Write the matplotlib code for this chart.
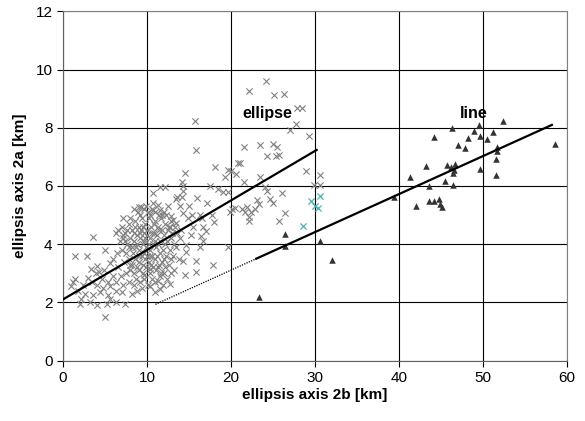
import matplotlib
matplotlib.use("Agg")
import matplotlib.pyplot as plt
import numpy as np

plt.rcParams["font.family"] = ["Liberation Sans", "DejaVu Sans"]

# gray "x" points (ellipse group): (2b, 2a) in km
ellipse_x = [
    # dense core
    6.6, 7.0, 7.4, 7.8, 8.2, 8.6, 9.0, 9.4, 9.8, 10.2, 10.5, 10.9, 11.3, 11.7, 12.1, 12.5,
    6.8, 7.2, 7.6, 8.0, 8.4, 8.8, 9.2, 9.6, 10.0, 10.4, 10.8, 11.2, 11.6, 12.0, 12.4, 12.8, 13.2,
    7.0, 7.5, 7.9, 8.3, 8.7, 9.1, 9.5, 9.9, 10.3, 10.7, 11.1, 11.5, 11.9, 12.3, 12.7, 13.1,
    7.3, 7.8, 8.2, 8.6, 9.0, 9.4, 9.8, 10.2, 10.6, 11.0, 11.4, 11.8, 12.2, 12.6,
    8.0, 8.5, 9.0, 9.5, 9.9, 10.3, 10.7, 11.1, 11.5, 12.0, 12.4,
    9.2, 9.7, 10.1, 10.6, 11.0, 11.9,
    8.9, 9.6, 10.1, 10.4, 11.0, 11.8, 12.3, 12.9, 13.3, 13.6, 13.9, 13.5, 13.8, 13.2,
    9.3, 10.0, 10.6, 9.7, 10.2, 10.0, 10.5, 9.5, 8.8, 11.4, 11.3,
    7.2, 8.0, 8.5, 9.2, 9.9, 10.6, 11.4, 12.0,
    7.6, 8.4, 9.2, 9.8, 10.8, 11.8, 12.6,
    7.4, 8.2, 9.0, 9.6, 10.4, 11.2, 12.0, 12.9,
    8.0, 8.8, 9.6, 10.4, 11.3, 11.7, 12.8,
    8.7, 9.4, 10.4, 11.3, 10.9,
    13.0, 12.2, 11.0, 9.5, 8.6,
    # lower left
    1.2, 1.4, 0.9, 1.4, 2.8, 3.6, 5.0, 4.1, 5.6, 4.3, 4.9, 6.0, 3.0, 3.4, 2.4, 4.0,
    4.8, 5.6, 6.35, 7.15, 2.6, 3.6, 4.4, 5.4, 6.35, 8.25, 2.0, 3.2, 4.1, 5.2, 6.35,
    7.4, 5.0, 6.35, 7.15, 1.8, 3.3, 4.6, 5.3, 6.6, 6.9, 7.5, 7.8, 8.4, 6.0, 6.4, 5.6,
    3.9, 2.2, 7.0, 8.8,
    # middle
    15.7, 15.8, 18.1, 14.5, 14.2, 14.3, 19.7, 20.0, 20.8, 19.3, 10.7, 11.55, 12.2, 14.3,
    13.5, 14.2, 13.6, 19.0, 19.6, 17.1, 15.0, 20.1, 19.9, 10.75, 11.3, 10.7, 11.55, 9.09,
    9.33, 14.3, 15.3, 16.3, 16.5, 17.7, 18.0, 12.8, 13.1, 13.5, 12.7, 16.7, 17.0, 16.4,
    16.7, 16.3, 14.6, 14.7, 14.3, 15.8, 17.9, 14.5, 15.8, 12.7, 11.5, 19.7, 15.5, 14.0,
    15.2, 14.9, 13.9, 12.5, 16.0, 18.5, 17.5,
    # upper right
    24.2, 22.1, 25.1, 26.3, 27.9, 28.5, 27.75, 27.0, 29.3, 21.5, 23.5, 25.0, 25.5, 24.3,
    25.4, 25.7, 21.1, 20.6, 23.4, 21.5, 28.9, 30.6, 29.9, 30.6, 24.0, 24.3, 26.1, 23.1,
    23.35, 22.8, 22.4, 22.1, 22.2, 24.7, 25.0, 20.5, 21.3, 21.9, 21.7, 26.4, 25.7,
]
ellipse_y = [
    4.5, 4.6, 4.4, 4.7, 4.5, 4.8, 4.6, 4.9, 4.7, 4.9, 4.6, 4.8, 4.6, 4.9, 4.7, 4.5,
    4.1, 4.2, 4.0, 4.2, 4.1, 4.3, 4.2, 4.4, 4.3, 4.2, 4.4, 4.3, 4.1, 4.3, 4.1, 4.2, 4.0,
    3.8, 3.7, 3.9, 3.7, 3.9, 3.8, 4.0, 3.9, 3.8, 4.0, 3.9, 3.7, 3.8, 3.6, 3.8, 3.6,
    3.4, 3.5, 3.3, 3.5, 3.4, 3.6, 3.5, 3.4, 3.6, 3.5, 3.3, 3.4, 3.2, 3.3,
    3.1, 3.0, 3.1, 3.0, 3.2, 3.0, 3.2, 3.1, 2.9, 3.0, 2.8,
    2.7, 2.8, 2.6, 2.8, 2.7, 2.6,
    5.1, 5.2, 5.1, 5.0, 5.1, 5.0, 5.0, 4.8, 4.6, 4.4, 4.2, 3.9, 3.5, 3.1,
    4.5, 4.5, 4.4, 4.1, 4.0, 3.6, 3.3, 3.3, 4.0, 4.5, 4.0,
    4.9, 4.9, 5.2, 5.0, 5.3, 5.2, 5.0, 5.1,
    4.5, 4.4, 4.4, 4.2, 4.7, 4.5, 4.6,
    4.1, 3.9, 3.6, 3.7, 3.6, 3.6, 3.5, 3.5,
    3.3, 3.2, 2.95, 3.15, 3.2, 3.0, 3.0,
    2.8, 2.5, 2.55, 2.75, 2.35,
    4.4, 4.0, 4.1, 4.6, 4.6,
    2.7, 2.8, 2.55, 3.6, 3.6, 4.25, 3.8, 3.25, 3.35, 3.05, 3.1, 2.9, 2.85, 2.7, 2.6, 2.6,
    2.5, 2.55, 2.7, 2.6, 2.3, 2.25, 2.35, 2.25, 2.4, 2.3, 1.95, 2.0, 1.9, 1.95, 2.0,
    1.95, 1.5, 4.4, 4.3, 2.4, 3.15, 2.8, 2.7, 3.2, 2.9, 3.0, 2.7, 2.6, 3.5, 3.7, 2.1,
    3.0, 2.1, 2.35, 2.4,
    8.25, 7.24, 6.66, 6.44, 6.13, 6.0, 6.55, 6.53, 6.78, 6.32, 5.75, 5.96, 5.96, 5.84,
    5.56, 5.63, 5.61, 5.79, 5.79, 5.41, 5.31, 5.2, 5.1, 5.41, 5.36, 5.18, 5.18, 5.27,
    5.27, 5.08, 5.01, 4.99, 4.9, 5.01, 4.76, 4.97, 4.83, 4.72, 4.6, 4.6, 4.44, 4.28,
    4.1, 3.89, 3.96, 3.73, 3.43, 3.41, 3.27, 2.93, 3.04, 2.63, 2.47, 3.89, 4.6, 4.5,
    4.3, 4.9, 5.3, 5.3, 5.6, 5.9, 6.0,
    9.6, 9.28, 9.12, 9.17, 8.67, 8.67, 8.12, 7.93, 7.73, 7.35, 7.41, 7.45, 7.35, 7.03,
    7.03, 7.06, 6.78, 6.41, 6.3, 6.14, 6.5, 6.37, 6.02, 6.02, 5.98, 5.84, 5.77, 5.52,
    5.38, 5.2, 5.11, 4.94, 4.81, 5.56, 5.41, 5.24, 5.22, 5.27, 5.11, 5.08, 4.79,
]

# cyan "x" points
cyan_x = [29.5, 30.0, 30.3, 30.6, 28.6]
cyan_y = [5.5, 5.31, 5.24, 5.66, 4.63]

# black triangles (line group)
line_x = [23.3, 26.4, 26.4, 30.6, 32.0, 39.4, 41.3, 42.0, 43.2, 43.6, 43.6, 44.2, 44.8,
          44.9, 45.1, 44.2, 45.5, 45.7, 46.2, 46.7, 46.5, 46.4, 46.4, 46.3, 47.0, 47.8,
          48.2, 48.9, 49.5, 49.7, 49.7, 50.5, 51.2, 51.5, 51.7, 51.7, 51.5, 52.4, 58.6]
line_y = [2.19, 4.35, 3.94, 4.12, 3.46, 5.61, 6.32, 5.31, 6.69, 6.0, 5.5, 5.5, 5.56,
          5.38, 5.27, 7.68, 6.18, 6.71, 6.66, 6.76, 6.55, 6.46, 6.05, 8.0, 7.42, 7.31,
          7.65, 7.9, 8.09, 7.72, 6.58, 7.61, 7.86, 6.37, 7.35, 7.19, 6.94, 8.23, 7.45]

# fitted lines
fit_ellipse_x = [0, 30.2]
fit_ellipse_y = [2.1, 7.24]
fit_line_x = [23.0, 58.2]
fit_line_y = [3.5, 8.1]
fit_line_ext_x = [11.0, 23.0]
fit_line_ext_y = [1.93, 3.5]


fig = plt.figure(figsize=(5.85, 4.21), dpi=100)
ax = fig.add_axes([0.1077, 0.1437, 0.8615, 0.829])

ax.scatter(ellipse_x, ellipse_y, marker="x", s=20, color="#808080", linewidths=0.8, zorder=3)
ax.scatter(cyan_x, cyan_y, marker="x", s=20, color="#4fb3b3", linewidths=0.9, zorder=3)
ax.scatter(line_x, line_y, marker="^", s=22, color="#333333", linewidths=0, zorder=3)

ax.plot(fit_ellipse_x, fit_ellipse_y, color="black", lw=1.6, zorder=4)
ax.plot(fit_line_x, fit_line_y, color="black", lw=1.6, zorder=4)
ax.plot(fit_line_ext_x, fit_line_ext_y, color="black", lw=0.9, ls=(0, (1, 1)), zorder=4)

ax.text(24.3, 8.5, "ellipse", fontsize=11.5, fontweight="bold", ha="center", va="center")
ax.text(48.9, 8.5, "line", fontsize=11.5, fontweight="bold", ha="center", va="center")

ax.set_xlim(0, 60)
ax.set_ylim(0, 12)
ax.set_xticks(np.arange(0, 61, 10))
ax.set_yticks(np.arange(0, 13, 2))
ax.grid(True, color="black", lw=0.8)
ax.set_axisbelow(True)
ax.tick_params(direction="out", length=4, width=0.8, labelsize=11, colors="black")
for side in ["top", "right"]:
    ax.spines[side].set_color("#808080")
for side in ["left", "bottom"]:
    ax.spines[side].set_color("#606060")

ax.set_xlabel("ellipsis axis 2b [km]", fontsize=11, fontweight="bold", labelpad=2)
ax.set_ylabel("ellipsis axis 2a [km]", fontsize=11, fontweight="bold", labelpad=6)

fig.savefig("out.png", dpi=100)
